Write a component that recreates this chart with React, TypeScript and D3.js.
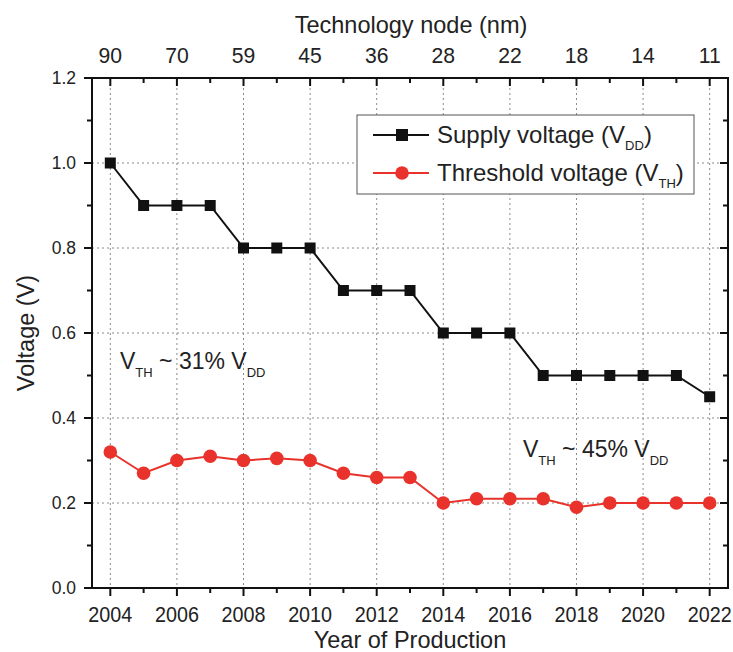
import React from "react";
import * as d3 from "d3";

const years = [2004, 2005, 2006, 2007, 2008, 2009, 2010, 2011, 2012, 2013, 2014, 2015, 2016, 2017, 2018, 2019, 2020, 2021, 2022];
const vdd = [1.0, 0.9, 0.9, 0.9, 0.8, 0.8, 0.8, 0.7, 0.7, 0.7, 0.6, 0.6, 0.6, 0.5, 0.5, 0.5, 0.5, 0.5, 0.45];
const vth = [0.32, 0.27, 0.3, 0.31, 0.3, 0.305, 0.3, 0.27, 0.26, 0.26, 0.2, 0.21, 0.21, 0.21, 0.19, 0.2, 0.2, 0.2, 0.2];
const bottomTicks = [2004, 2006, 2008, 2010, 2012, 2014, 2016, 2018, 2020, 2022];
const nodeLabels = ["90", "70", "59", "45", "36", "28", "22", "18", "14", "11"];
const yTicks = [0, 0.2, 0.4, 0.6, 0.8, 1.0, 1.2];

const W = 733, H = 652;
const L = 92, R = 728, T = 78, B = 588;
const FONT = "'Liberation Sans', Arial, Helvetica, sans-serif";
const INK = "#222";

function ST(props: { x: number; y: number; sx?: number; size: number; anchor?: string; children: React.ReactNode; rotate?: number }) {
  const { x, y, sx = 1, size, anchor = "start", children, rotate = 0 } = props;
  return (
    <text
      transform={`translate(${x},${y}) rotate(${rotate}) scale(${sx},1)`}
      textAnchor={anchor}
      fontSize={size}
      fill={INK}
    >
      {children}
    </text>
  );
}

export default function App() {
  const x = d3.scaleLinear().domain([2003.45, 2022.55]).range([L, R]);
  const y = d3.scaleLinear().domain([0, 1.2]).range([B, T]);
  const minorX = d3.range(2004, 2023, 1);
  const minorY = d3.range(0, 13, 1).map((i) => i / 10);
  const line = d3.line<number>().x((_, i) => x(years[i])).y((d) => y(d));
  const red = "#e8322b";
  return (
    <svg width={W} height={H} style={{ display: "block", position: "absolute", left: 0, top: 0 }} fontFamily={FONT}>
      <rect width={W} height={H} fill="#fff" />
      {/* grid */}
      {bottomTicks.map((t) => (
        <line key={"gx" + t} x1={x(t)} x2={x(t)} y1={T} y2={B} stroke="#8a8a8a" strokeWidth={1} strokeDasharray="2,3" />
      ))}
      {yTicks.slice(1, -1).map((t) => (
        <line key={"gy" + t} x1={L} x2={R} y1={y(t)} y2={y(t)} stroke="#8a8a8a" strokeWidth={1} strokeDasharray="2,3" />
      ))}
      {/* frame */}
      <rect x={L} y={T} width={R - L} height={B - T} fill="none" stroke="#111" strokeWidth={2} />
      {minorX.map((t) => (
        <line key={"bx" + t} x1={x(t)} x2={x(t)} y1={B} y2={B + (t % 2 === 0 ? 8 : 5)} stroke="#111" strokeWidth={2} />
      ))}
      {minorX.map((t) => (
        <line key={"tx" + t} x1={x(t)} x2={x(t)} y1={T} y2={T + (t % 2 === 0 ? 8 : 5)} stroke="#111" strokeWidth={2} />
      ))}
      {minorY.map((t, i) => (
        <line key={"ly" + i} x1={L} x2={L - (i % 2 === 0 ? 8 : 5)} y1={y(t)} y2={y(t)} stroke="#111" strokeWidth={2} />
      ))}
      {minorY.map((t, i) => (
        <line key={"ry" + i} x1={R} x2={R - (i % 2 === 0 ? 8 : 5)} y1={y(t)} y2={y(t)} stroke="#111" strokeWidth={2} />
      ))}
      {/* tick labels */}
      {bottomTicks.map((t) => (
        <ST key={"bl" + t} x={x(t)} y={622} size={21.5} sx={0.92} anchor="middle">{t}</ST>
      ))}
      {bottomTicks.map((t, i) => (
        <ST key={"tl" + t} x={x(t)} y={63} size={22.5} sx={0.94} anchor="middle">{nodeLabels[i]}</ST>
      ))}
      {yTicks.map((t) => (
        <ST key={"yl" + t} x={L - 16} y={y(t) + 6} size={17.5} anchor="end">{t.toFixed(1)}</ST>
      ))}
      {/* axis titles */}
      <ST x={410} y={648} size={24.5} sx={0.96} anchor="middle">Year of Production</ST>
      <ST x={411} y={33} size={24.5} sx={0.96} anchor="middle">Technology node (nm)</ST>
      <ST x={34} y={333} size={23.5} sx={1} anchor="middle" rotate={-90}>Voltage (V)</ST>
      {/* series */}
      <path d={line(vdd) || ""} fill="none" stroke="#111" strokeWidth={2} />
      {vdd.map((v, i) => (
        <rect key={"s" + i} x={x(years[i]) - 5.5} y={y(v) - 5.5} width={11} height={11} fill="#111" />
      ))}
      <path d={line(vth) || ""} fill="none" stroke={red} strokeWidth={2} />
      {vth.map((v, i) => (
        <circle key={"c" + i} cx={x(years[i])} cy={y(v)} r={6.8} fill={red} />
      ))}
      {/* annotations */}
      <text x={120} y={369} fontSize={23} fill={INK}>
        V<tspan fontSize={13} dy={8}>TH</tspan><tspan dy={-8}> ~ 31% V</tspan><tspan fontSize={13} dy={8}>DD</tspan>
      </text>
      <text x={523} y={457} fontSize={23} fill={INK}>
        V<tspan fontSize={13} dy={8}>TH</tspan><tspan dy={-8}> ~ 45% V</tspan><tspan fontSize={13} dy={8}>DD</tspan>
      </text>
      {/* legend */}
      <rect x={357} y={115} width={337} height={79} fill="#fff" stroke="#555" strokeWidth={1} />
      <line x1={373} x2={429} y1={135} y2={135} stroke="#111" strokeWidth={2} />
      <rect x={396} y={129} width={12} height={12} fill="#111" />
      <text x={437} y={143} fontSize={24} fill={INK}>
        Supply voltage (V<tspan fontSize={13} dy={7}>DD</tspan><tspan dy={-7}>)</tspan>
      </text>
      <line x1={373} x2={429} y1={173} y2={173} stroke={red} strokeWidth={2} />
      <circle cx={402} cy={173} r={6.8} fill={red} />
      <text x={437} y={181} fontSize={24} fill={INK}>
        Threshold voltage (V<tspan fontSize={13} dy={7}>TH</tspan><tspan dy={-7}>)</tspan>
      </text>
    </svg>
  );
}
